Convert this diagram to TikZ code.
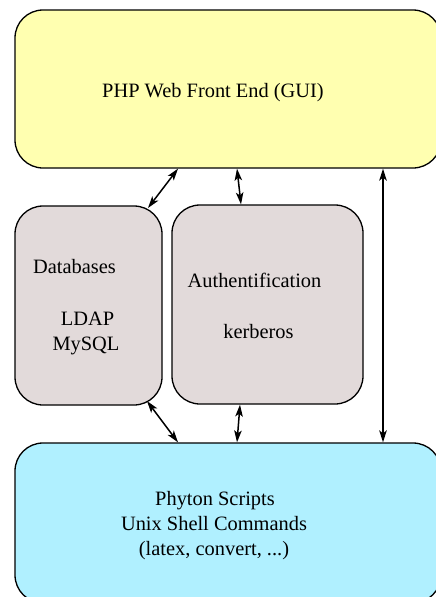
\documentclass[tikz,border=0pt]{standalone}
\usepackage{fontspec}
\setmainfont{Liberation Serif}
\usetikzlibrary{arrows.meta}
\definecolor{webyellow}{RGB}{255,255,176}
\definecolor{midgray}{RGB}{226,218,218}
\definecolor{scriptcyan}{RGB}{176,240,255}
\begin{document}
\begin{tikzpicture}[x=1pt,y=-1pt,
  box/.style={draw=black,line width=1.3pt,rounded corners=28pt,inner sep=0pt},
  lbl/.style={inner sep=0pt,anchor=base,font=\fontsize{20.4}{25}\selectfont},
  arr/.style={line width=1.5pt,{Stealth[length=12pt,width=7.5pt,inset=3pt]}-{Stealth[length=12pt,width=7.5pt,inset=3pt]}}]
\useasboundingbox (0,0) rectangle (436,597);
\node[box,fill=webyellow,minimum width=426pt,minimum height=158pt] (web) at (228,89) {};
\node[box,fill=midgray,minimum width=147pt,minimum height=199pt] (db) at (88.5,305.5) {};
\node[box,fill=midgray,minimum width=191pt,minimum height=199pt] (auth) at (267.5,304.5) {};
\node[box,fill=scriptcyan,minimum width=426pt,minimum height=160pt] (scr) at (228,523) {};
\node[lbl] (t1) at (213,97) {PHP Web Front End (GUI)};
\node[lbl,anchor=base west] (t2) at (33,273) {Databases};
\node[lbl] (t3) at (87.5,325) {LDAP};
\node[lbl] (t4) at (86,350) {MySQL};
\node[lbl] (t5) at (254.5,287) {Authentification};
\node[lbl] (t6) at (258.5,338) {kerberos};
\node[lbl] (t7) at (215,505) {Phyton Scripts};
\node[lbl] (t8) at (214,530) {Unix Shell Commands};
\node[lbl] (t9) at (214,555) {(latex, convert, ...)};
\coordinate (a1) at (178,0 |- web.south);
\coordinate (b1) at (148,208);
\coordinate (a2) at (237,0 |- web.south);
\coordinate (b2) at (241,0 |- auth.north);
\coordinate (a3) at (383,0 |- web.south);
\coordinate (b3) at (383,0 |- scr.north);
\coordinate (a4) at (147,401);
\coordinate (b4) at (178,0 |- scr.north);
\coordinate (a5) at (240,0 |- auth.south);
\coordinate (b5) at (237,0 |- scr.north);
\draw[arr] (a1) -- (b1);
\draw[arr] (a2) -- (b2);
\draw[arr] (a3) -- (b3);
\draw[arr] (a4) -- (b4);
\draw[arr] (a5) -- (b5);
\end{tikzpicture}
\end{document}
